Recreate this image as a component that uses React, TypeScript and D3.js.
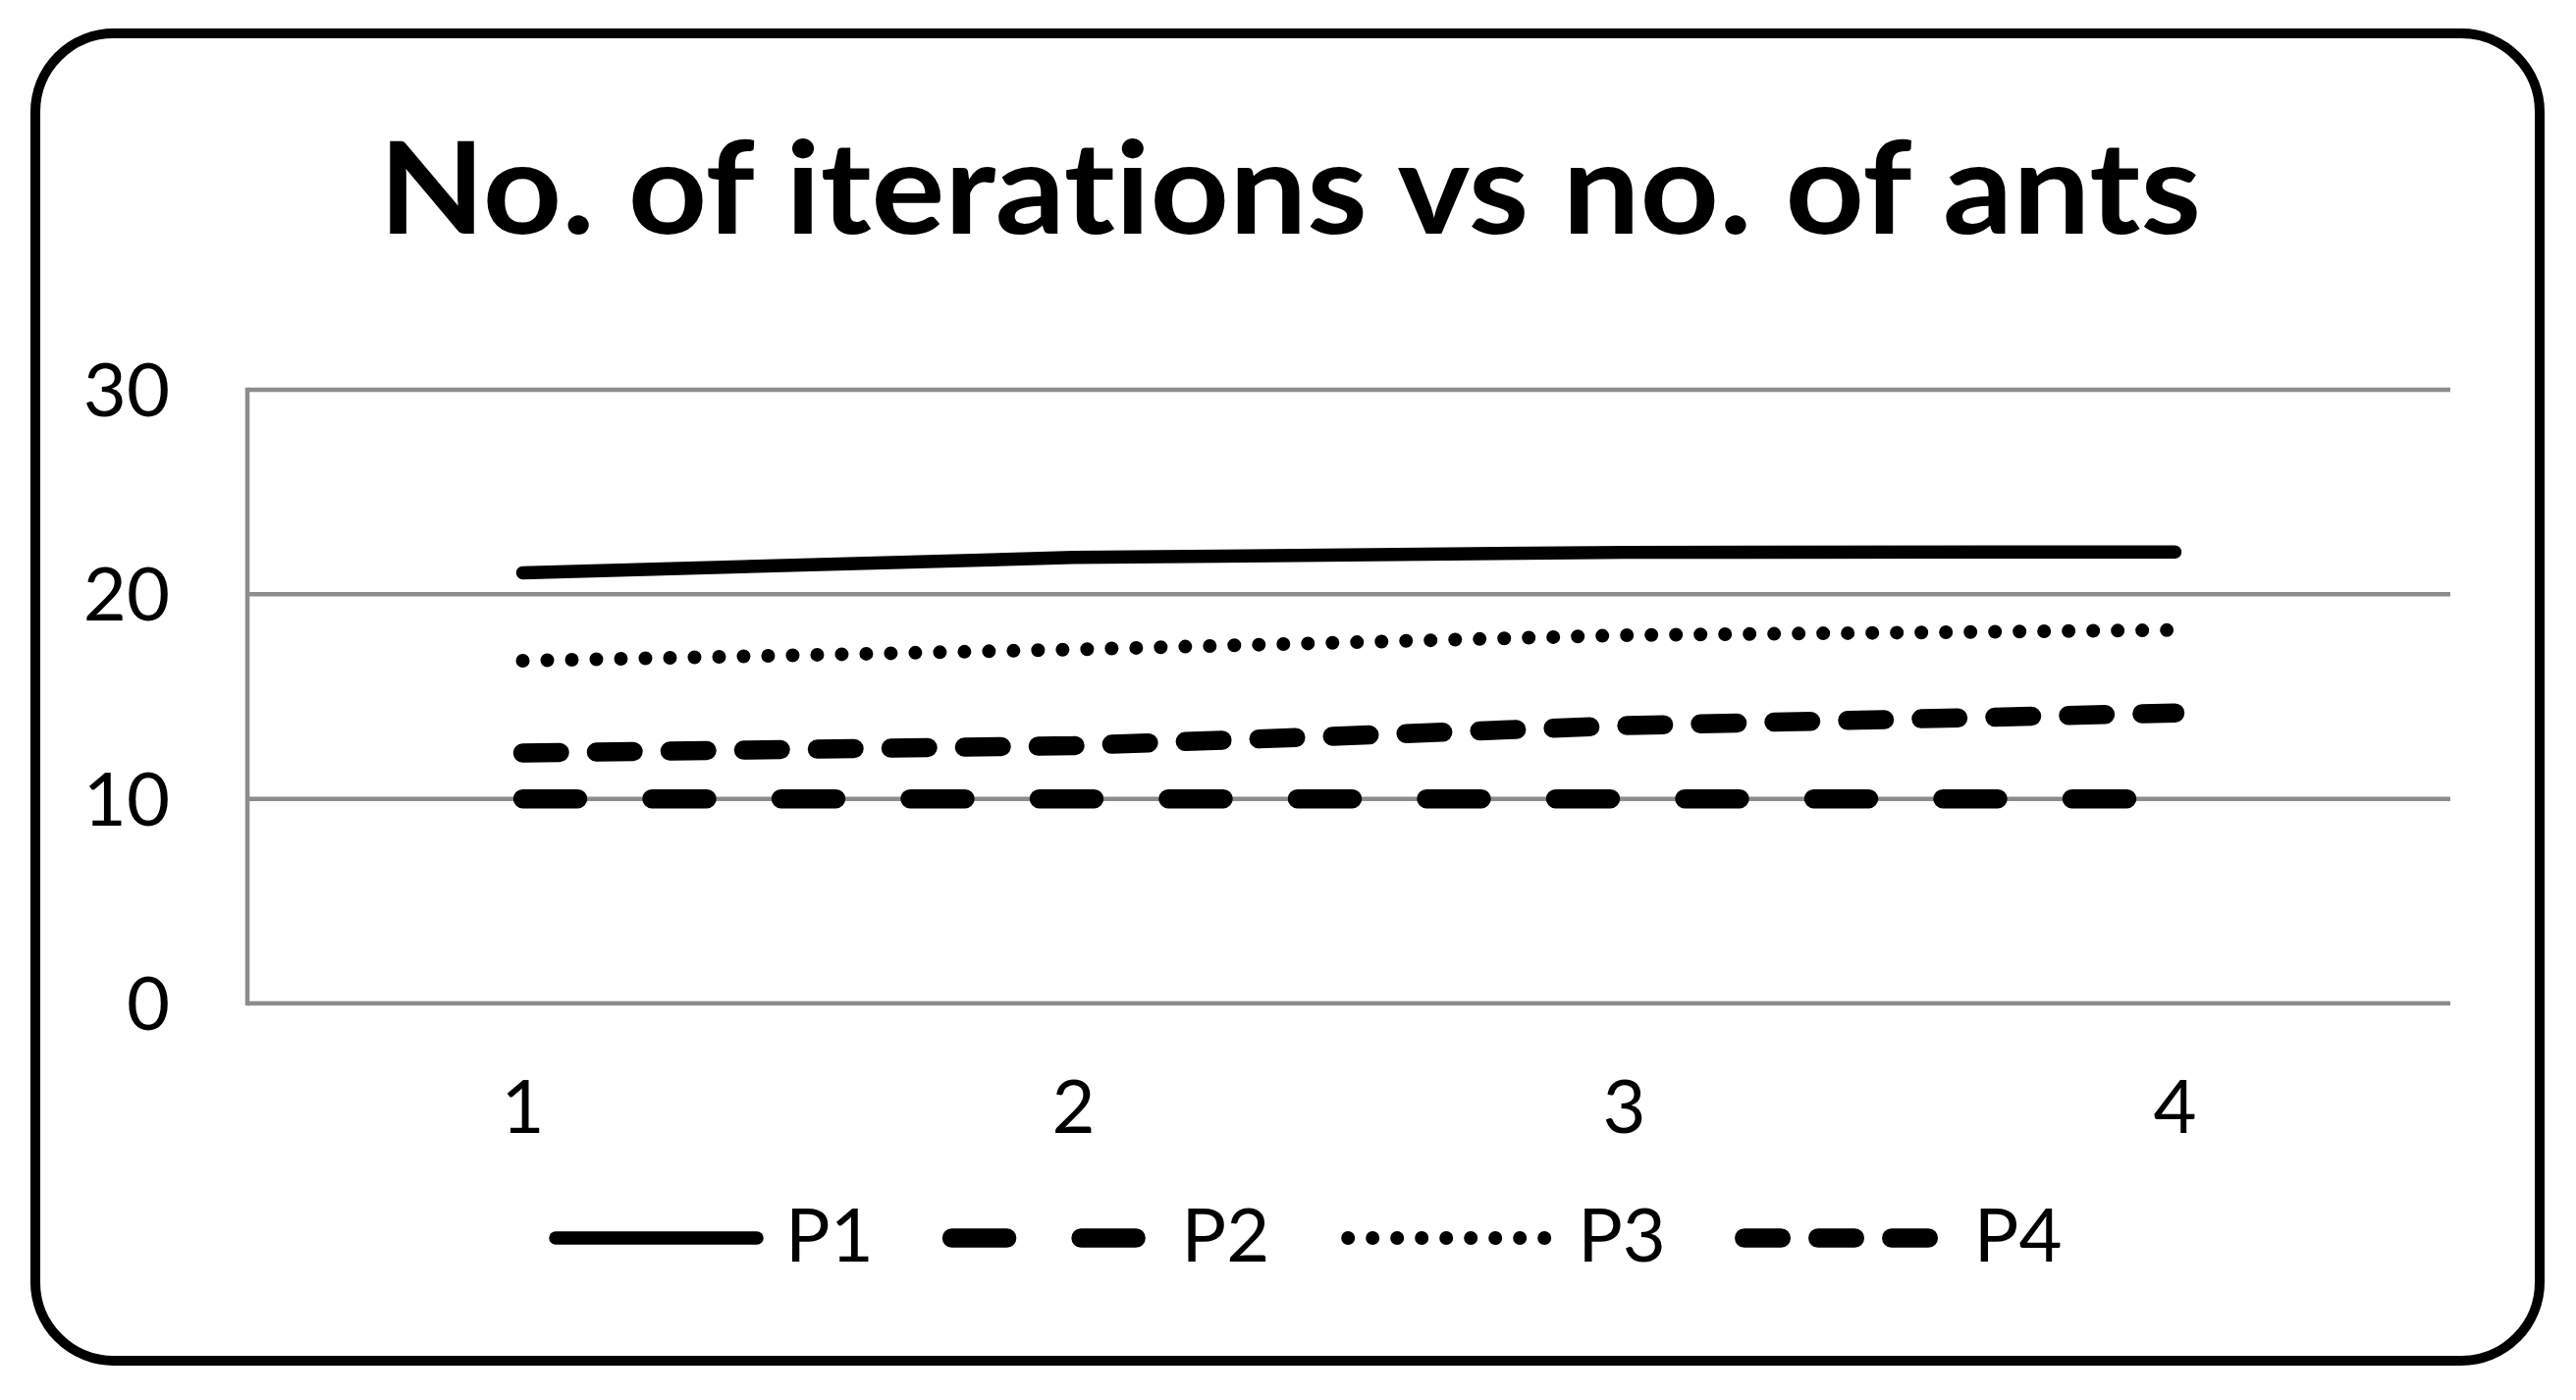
import React from "react";
import * as d3 from "d3";

const categories = ["1", "2", "3", "4"];
const seriesNames = ["P1", "P2", "P3", "P4"];
const p1 = [21.05, 21.8, 22.05, 22.07];
const p2 = [10, 10, 10, 10];
const p3 = [16.75, 17.3, 18.0, 18.25];
const p4 = [12.24, 12.6, 13.58, 14.2];
const yTicks = [0, 10, 20, 30];

const title = "No. of iterations vs no. of ants";

// line styles per series (Excel-ish dash types)
const styles = [
  { width: 13.5, dash: null },
  { width: 19.5, dash: "56 75.5" },
  { width: 14, dash: "0 25" },
  { width: 19.5, dash: "37.5 37.5" },
];

const W = 2624;
const H = 1426;
const font = "Lato, Carlito, Calibri, sans-serif";

export default function App() {
  const plotLeft = 252;
  const plotRight = 2496;
  const plotTop = 397;
  const plotBottom = 1022;

  const x = d3.scaleBand().domain(categories).range([plotLeft, plotRight]);
  const xc = (c: string) => (x(c) as number) + x.bandwidth() / 2;
  const y = d3.scaleLinear().domain([0, 30]).range([plotBottom, plotTop]);

  const line = d3
    .line<number>()
    .x((_, i) => xc(categories[i]))
    .y((d) => y(d));

  const series = [p1, p2, p3, p4];

  // legend layout
  const legendStart = 566;
  const legendStep = 403.6;
  const legendY = 1261;
  const sampleLen = 205;

  return (
    <svg
      width={W}
      height={H}
      style={{ position: "absolute", left: 0, top: 0, background: "#fff" }}
    >
      <rect
        x={36}
        y={34}
        width={2551}
        height={1352}
        rx={80}
        fill="#fff"
        stroke="#000"
        strokeWidth={10}
      />

      <text
        x={1314}
        y={238}
        textAnchor="middle"
        fontFamily={font}
        fontWeight={700}
        fontSize={131}
        fill="#000"
        textLength={1856}
        lengthAdjust="spacingAndGlyphs"
        style={{ fontVariantLigatures: "none" }}
      >
        {title}
      </text>

      {/* gridlines */}
      {yTicks.map((t) => (
        <line
          key={"g" + t}
          x1={plotLeft}
          x2={plotRight}
          y1={y(t)}
          y2={y(t)}
          stroke="#8c8c8c"
          strokeWidth={4.5}
        />
      ))}
      <line
        x1={plotLeft}
        x2={plotLeft}
        y1={y(30) - 2.25}
        y2={y(0) + 2.25}
        stroke="#8c8c8c"
        strokeWidth={4.5}
      />

      {/* y tick labels */}
      {yTicks.map((t) => (
        <text
          key={"yl" + t}
          x={173}
          y={y(t) + 27}
          textAnchor="end"
          fontFamily={font}
          fontSize={76}
          fill="#000"
        >
          {t}
        </text>
      ))}

      {/* x tick labels */}
      {categories.map((c) => (
        <text
          key={"xl" + c}
          x={xc(c)}
          y={1154}
          textAnchor="middle"
          fontFamily={font}
          fontSize={76}
          fill="#000"
        >
          {c}
        </text>
      ))}

      {/* series */}
      {series.map((s, i) => (
        <path
          key={seriesNames[i]}
          d={line(s) || ""}
          fill="none"
          stroke="#000"
          strokeWidth={styles[i].width}
          strokeLinecap="round"
          strokeLinejoin="round"
          strokeDasharray={styles[i].dash || undefined}
        />
      ))}

      {/* legend */}
      {seriesNames.map((name, i) => {
        const sx = legendStart + i * legendStep;
        return (
          <g key={"lg" + name}>
            <line
              x1={sx}
              x2={sx + sampleLen}
              y1={legendY}
              y2={legendY}
              stroke="#000"
              strokeWidth={styles[i].width}
              strokeLinecap="round"
              strokeDasharray={styles[i].dash || undefined}
            />
            <text
              x={sx + 234}
              y={1285}
              fontFamily={font}
              fontSize={76}
              fill="#000"
            >
              {name}
            </text>
          </g>
        );
      })}
    </svg>
  );
}
